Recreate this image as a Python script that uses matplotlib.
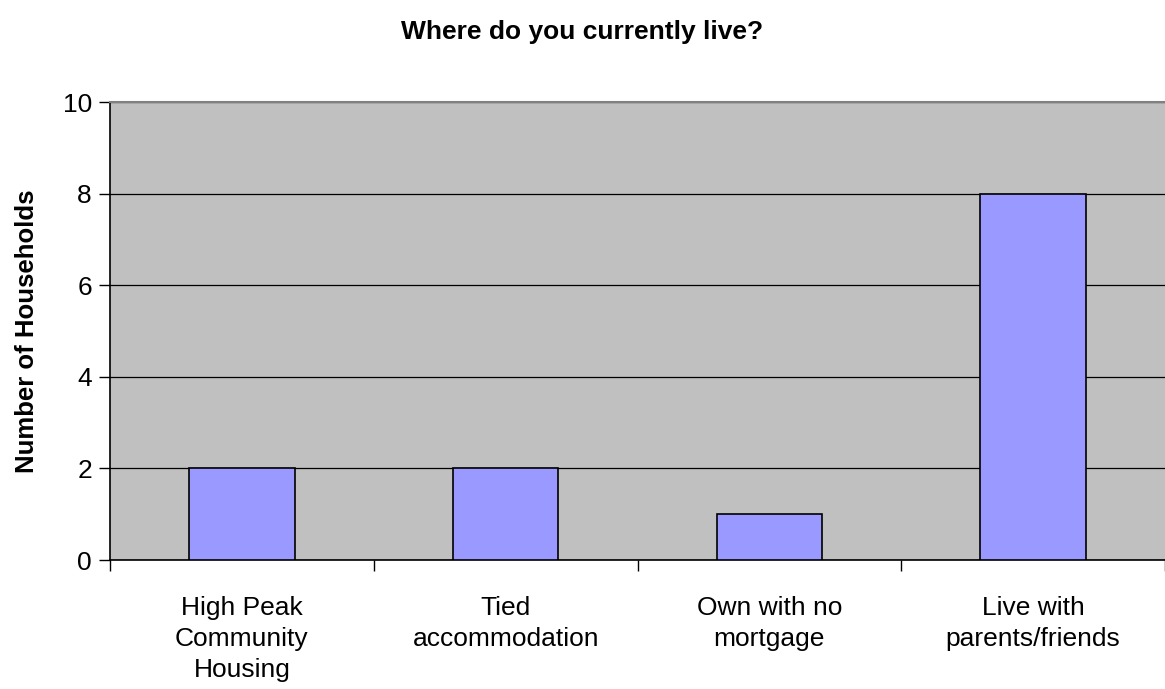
import matplotlib.pyplot as plt
import numpy as np

categories = ['High Peak\nCommunity\nHousing', 'Tied\naccommodation',
              'Own with no\nmortgage', 'Live with\nparents/friends']
households = [2, 2, 1, 8]

plt.rcParams['font.family'] = ['Liberation Sans', 'DejaVu Sans']

fig = plt.figure(figsize=(11.65, 6.89), dpi=100)
ax = fig.add_axes([110/1165, 1 - 560/689, 1 - 110/1165, (560 - 102)/689])
ax.set_facecolor('#C0C0C0')

x = np.arange(len(categories))
ax.bar(x, households, width=0.4, color='#9999FF', edgecolor='black', linewidth=1.2, zorder=3)

ax.set_xlim(-0.5, 3.5)
ax.set_ylim(0, 10)
ax.set_yticks([0, 2, 4, 6, 8, 10])
ax.yaxis.grid(True, color='black', linewidth=0.9, zorder=1)
ax.set_axisbelow(True)

ax.set_xticks(x)
ax.set_xticklabels(categories, fontsize=19, linespacing=1.37)
ax.tick_params(axis='x', length=0, pad=26)
ax.set_xticks([-0.5, 0.5, 1.5, 2.5, 3.5], minor=True)
ax.tick_params(axis='x', which='minor', length=8, width=1)
ax.tick_params(axis='y', labelsize=19, length=8, width=1, pad=5)

ax.spines['top'].set_color('#808080')
ax.spines['top'].set_linewidth(1.5)
ax.spines['right'].set_visible(False)
ax.spines['left'].set_linewidth(1.2)
ax.spines['bottom'].set_linewidth(1.2)

ax.set_ylabel('Number of Households', fontsize=18.5, fontweight='bold', labelpad=17)
fig.suptitle('Where do you currently live?', fontsize=19, fontweight='bold', y=1 - 32/689, va='center')

fig.savefig('out.png', dpi=100)
